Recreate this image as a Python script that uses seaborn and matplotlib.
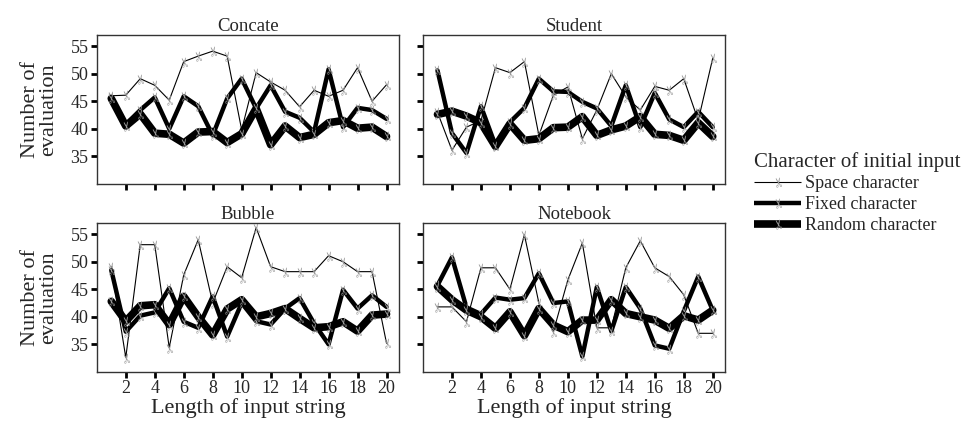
import numpy as np
import pandas as pd
import matplotlib
matplotlib.use('Agg')
import matplotlib.pyplot as plt
from matplotlib.lines import Line2D
from matplotlib.markers import MarkerStyle
from matplotlib.transforms import Affine2D
import seaborn as sns

# string length on the x axis
length = list(range(1, 21))
panels = ['Concate', 'Student', 'Bubble', 'Notebook']
series = ['Space character', 'Fixed character', 'Random character']

# values, one list per panel and series
concate_space = [46.0, 46.1, 49.1, 47.9, 45.2, 52.2, 53.2, 54.1, 53.2, 39.8,
                 50.2, 48.5, 47.0, 44.0, 47.0, 45.9, 47.0, 51.1, 45.0, 48.0]
concate_fixed = [45.7, 40.8, 43.4, 45.7, 40.0, 45.9, 44.1, 38.8, 45.5, 49.1,
                 43.7, 47.9, 43.1, 42.0, 39.4, 50.8, 40.3, 43.8, 43.4, 41.8]
concate_random = [45.5, 40.5, 42.7, 39.2, 39.0, 37.4, 39.4, 39.5, 37.5, 39.1,
                  43.7, 37.1, 40.5, 38.4, 39.0, 41.1, 41.5, 40.1, 40.3, 38.6]

student_space = [43.0, 36.1, 40.3, 41.5, 51.1, 50.2, 52.2, 38.8, 46.1, 47.6,
                 38.2, 43.4, 50.0, 45.8, 43.4, 47.7, 47.0, 49.1, 41.5, 52.8]
student_fixed = [50.6, 39.2, 35.6, 44.1, 37.0, 41.2, 43.8, 49.1, 46.8, 46.7,
                 44.9, 43.7, 40.5, 47.9, 40.3, 46.5, 41.7, 40.3, 43.1, 40.3]
student_random = [42.6, 43.2, 42.3, 41.1, 36.8, 40.9, 37.9, 38.2, 40.2, 40.3,
                  42.2, 38.8, 39.8, 40.5, 42.2, 39.0, 38.8, 37.9, 41.1, 38.6]

bubble_space = [49.1, 32.6, 53.1, 53.1, 34.4, 47.6, 54.0, 42.5, 49.1, 47.1,
                56.2, 49.1, 48.2, 48.2, 48.2, 51.1, 50.0, 48.2, 48.2, 35.2]
bubble_fixed = [48.5, 37.3, 40.2, 40.8, 45.2, 39.1, 38.0, 43.7, 36.4, 42.5,
                39.2, 38.6, 41.5, 43.4, 38.8, 35.0, 44.9, 41.5, 43.9, 41.8]
bubble_random = [42.8, 39.2, 42.0, 42.2, 38.6, 43.7, 40.0, 36.7, 41.4, 43.1,
                 40.0, 40.6, 41.5, 39.7, 38.0, 38.2, 39.1, 37.4, 40.3, 40.5]

notebook_space = [41.8, 41.8, 39.1, 48.9, 48.9, 45.0, 54.9, 42.5, 37.3, 46.7,
                  53.4, 38.0, 38.0, 48.9, 53.8, 48.9, 47.3, 44.0, 37.0, 37.0]
notebook_fixed = [45.7, 50.8, 41.7, 40.5, 43.5, 43.1, 43.4, 47.9, 42.5, 42.8,
                  32.8, 45.4, 37.4, 45.4, 41.5, 34.8, 34.2, 41.0, 47.3, 41.2]
notebook_random = [45.5, 43.1, 41.2, 40.0, 37.9, 40.9, 36.6, 41.5, 38.5, 37.3,
                   39.4, 39.4, 43.1, 40.6, 40.0, 39.4, 37.9, 40.2, 39.4, 41.2]

data = {
    'Concate': [concate_space, concate_fixed, concate_random],
    'Student': [student_space, student_fixed, student_random],
    'Bubble': [bubble_space, bubble_fixed, bubble_random],
    'Notebook': [notebook_space, notebook_fixed, notebook_random],
}
widths = [0.8, 3.2, 5.5]

sns.set_theme(style='ticks')
plt.rcParams['font.family'] = ['Liberation Serif', 'DejaVu Serif']
plt.rcParams['mathtext.fontset'] = 'dejavusans'

scissor = MarkerStyle('$\u2702$', transform=Affine2D().rotate_deg(100))

fig, axes = plt.subplots(2, 2, figsize=(9.68, 4.24), dpi=100)
fig.subplots_adjust(left=0.100, right=0.749, top=0.917, bottom=0.123,
                    wspace=0.08, hspace=0.265)

for ax, name in zip(axes.flat, panels):
    for vals, lw in zip(data[name], widths):
        sns.lineplot(x=length, y=vals, ax=ax, color='black', lw=lw,
                     marker=scissor, markersize=7, markeredgewidth=0,
                     markerfacecolor='#9a9a9a', markeredgecolor='#9a9a9a')
    ax.set_title(name, fontsize=13.5, pad=3)
    ax.set_xlim(0, 20.85)
    ax.set_ylim(30, 57)
    ax.set_xticks(range(2, 21, 2))
    ax.set_yticks([35, 40, 45, 50, 55])
    ax.tick_params(direction='out', length=4, width=2, color='black',
                   labelsize=13, pad=2)
    for sp in ax.spines.values():
        sp.set_visible(True)
        sp.set_color('#333333')
        sp.set_linewidth(1.0)
    ax.set_xlabel('')
    ax.set_ylabel('')

for ax in axes[0]:
    ax.tick_params(labelbottom=False)
for ax in axes[:, 1]:
    ax.tick_params(labelleft=False)
for ax in axes[1]:
    ax.set_xlabel('Length of input string', fontsize=16, labelpad=1)
for ax in axes[:, 0]:
    ax.set_ylabel('Number of\nevaluation', fontsize=16, labelpad=9,
                  linespacing=0.95)

handles = [Line2D([], [], color='black', lw=lw, marker=scissor, markersize=7,
                  markeredgewidth=0, markerfacecolor='#9a9a9a',
                  solid_capstyle='butt')
           for lw in widths]
leg = fig.legend(handles, series, title='Character of initial input',
                 loc='upper left', bbox_to_anchor=(0.768, 0.668),
                 frameon=False, fontsize=13, title_fontsize=15,
                 handlelength=2.6, handletextpad=0.2, labelspacing=0.22,
                 borderpad=0.1)
leg._legend_box.align = 'left'

fig.savefig('out.png', dpi=100)
